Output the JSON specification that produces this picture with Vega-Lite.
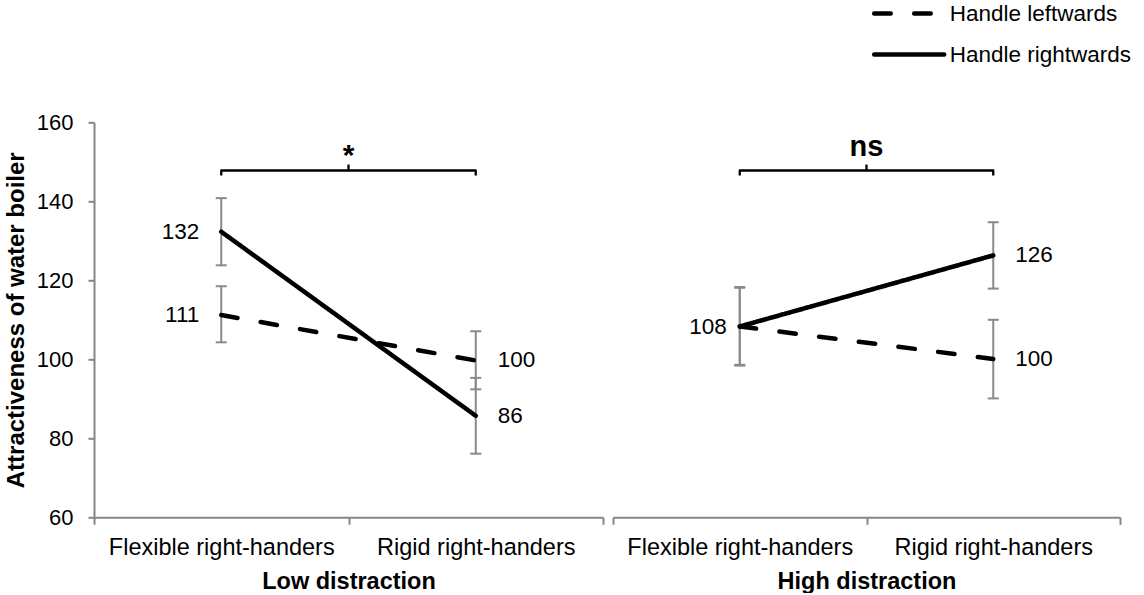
{
  "$schema": "https://vega.github.io/schema/vega-lite/v6.json",
  "background": "white",
  "padding": {"left": 4, "top": 2.3, "right": 0, "bottom": 0},
  "config": {
    "font": "Liberation Sans",
    "view": {"stroke": null},
    "axis": {"grid": false, "domainColor": "#868686", "tickColor": "#868686", "domainWidth": 2, "tickWidth": 2, "labelColor": "#000", "titleColor": "#000"},
    "axisX": {"tickSize": 7, "labelFontSize": 23.5, "labelPadding": 11, "titleFontSize": 23.5, "titleFontWeight": "bold", "titlePadding": 11, "labelAngle": 0, "tickBand": "extent", "labelLimit": 400},
    "axisY": {"tickSize": 6, "labelFontSize": 22, "labelPadding": 15, "titleFontSize": 24, "titleFontWeight": "bold", "titlePadding": 8}
  },
  "datasets": {
    "rows": [
      {"kind": "pt", "dist": "Low distraction", "cond": "Flexible right-handers", "handle": "Handle leftwards", "mean": 111.2, "lo": 104.3, "hi": 118.5, "label": "111"},
      {"kind": "pt", "dist": "Low distraction", "cond": "Flexible right-handers", "handle": "Handle rightwards", "mean": 132.3, "lo": 123.8, "hi": 140.8, "label": "132"},
      {"kind": "pt", "dist": "Low distraction", "cond": "Rigid right-handers", "handle": "Handle leftwards", "mean": 99.7, "lo": 92.4, "hi": 107.1, "label": "100"},
      {"kind": "pt", "dist": "Low distraction", "cond": "Rigid right-handers", "handle": "Handle rightwards", "mean": 85.7, "lo": 76.1, "hi": 95.3, "label": "86"},
      {"kind": "pt", "dist": "High distraction", "cond": "Flexible right-handers", "handle": "Handle leftwards", "mean": 108.3, "lo": 98.4, "hi": 118.1, "label": "108"},
      {"kind": "pt", "dist": "High distraction", "cond": "Flexible right-handers", "handle": "Handle rightwards", "mean": 108.3, "lo": 98.6, "hi": 118.3, "label": null},
      {"kind": "pt", "dist": "High distraction", "cond": "Rigid right-handers", "handle": "Handle leftwards", "mean": 100.1, "lo": 90.1, "hi": 110.0, "label": "100"},
      {"kind": "pt", "dist": "High distraction", "cond": "Rigid right-handers", "handle": "Handle rightwards", "mean": 126.3, "lo": 117.9, "hi": 134.7, "label": "126"},
      {"kind": "br", "dist": "Low distraction", "cond": "Flexible right-handers", "y": 146.5, "ord": 1},
      {"kind": "br", "dist": "Low distraction", "cond": "Flexible right-handers", "y": 147.8, "ord": 2},
      {"kind": "br", "dist": "Low distraction", "cond": "Rigid right-handers", "y": 147.8, "ord": 3},
      {"kind": "br", "dist": "Low distraction", "cond": "Rigid right-handers", "y": 146.5, "ord": 4},
      {"kind": "br", "dist": "High distraction", "cond": "Flexible right-handers", "y": 146.5, "ord": 1},
      {"kind": "br", "dist": "High distraction", "cond": "Flexible right-handers", "y": 147.8, "ord": 2},
      {"kind": "br", "dist": "High distraction", "cond": "Rigid right-handers", "y": 147.8, "ord": 3},
      {"kind": "br", "dist": "High distraction", "cond": "Rigid right-handers", "y": 146.5, "ord": 4},
      {"kind": "sig", "dist": "Low distraction", "cond": "Flexible right-handers", "y": 147.8, "ytop": 149.3, "sig": "*"},
      {"kind": "sig", "dist": "High distraction", "cond": "Flexible right-handers", "y": 147.8, "ytop": 149.3, "sig": "ns"}
    ]
  },
  "spacing": 8,
  "resolve": {"scale": {"y": "shared", "strokeDash": "shared"}, "legend": {"strokeDash": "shared"}},
  "hconcat": [
    {
      "width": 509,
      "height": 395,
      "data": {"name": "rows"},
      "transform": [{"filter": "datum.dist === 'Low distraction'"}],
      "encoding": {
        "x": {"field": "cond", "type": "nominal", "sort": ["Flexible right-handers", "Rigid right-handers"], "scale": {"type": "band", "paddingInner": 0, "paddingOuter": 0}, "title": "Low distraction"}
      },
      "layer": [
        {
          "transform": [{"filter": "datum.kind === 'pt'"}],
          "mark": {"type": "rule", "color": "#8a8a8a", "strokeWidth": 2},
          "encoding": {
            "y": {"field": "lo", "type": "quantitative", "scale": {"domain": [60, 160]}, "title": "Attractiveness of water boiler", "axis": {"values": [60, 80, 100, 120, 140, 160]}},
            "y2": {"field": "hi"}
          }
        },
        {
          "transform": [{"filter": "datum.kind === 'pt'"}],
          "mark": {"type": "tick", "color": "#8a8a8a", "size": 11, "thickness": 2, "opacity": 1},
          "encoding": {"y": {"field": "lo", "type": "quantitative"}}
        },
        {
          "transform": [{"filter": "datum.kind === 'pt'"}],
          "mark": {"type": "tick", "color": "#8a8a8a", "size": 11, "thickness": 2, "opacity": 1},
          "encoding": {"y": {"field": "hi", "type": "quantitative"}}
        },
        {
          "transform": [{"filter": "datum.kind === 'pt'"}],
          "mark": {"type": "line", "color": "black", "strokeWidth": 4.5, "strokeCap": "round"},
          "encoding": {
            "y": {"field": "mean", "type": "quantitative"},
            "strokeDash": {
              "field": "handle", "type": "nominal",
              "scale": {"domain": ["Handle leftwards", "Handle rightwards"], "range": [[16.5, 23.5], [1, 0]]},
              "legend": {"title": null, "orient": "none", "legendX": 777.7, "legendY": -119.7, "symbolType": "stroke", "symbolSize": 4900, "symbolStrokeWidth": 4.5, "symbolStrokeColor": "black", "clipHeight": 22, "labelFontSize": 22.5, "labelOffset": 3, "rowPadding": 18, "labelColor": "black", "labelLimit": 400, "encode": {"symbols": {"update": {"strokeCap": {"value": "round"}}}}}
            }
          }
        },
        {
          "transform": [{"filter": "datum.kind === 'pt' && datum.label != null && datum.cond === 'Flexible right-handers'"}],
          "mark": {"type": "text", "align": "right", "baseline": "middle", "dx": -22, "fontSize": 22.5, "color": "black"},
          "encoding": {"y": {"field": "mean", "type": "quantitative"}, "text": {"field": "label"}}
        },
        {
          "transform": [{"filter": "datum.kind === 'pt' && datum.label != null && datum.cond === 'Rigid right-handers'"}],
          "mark": {"type": "text", "align": "left", "baseline": "middle", "dx": 22, "fontSize": 22.5, "color": "black"},
          "encoding": {"y": {"field": "mean", "type": "quantitative"}, "text": {"field": "label"}}
        },
        {
          "transform": [{"filter": "datum.kind === 'br'"}],
          "mark": {"type": "line", "color": "black", "strokeWidth": 2.3, "strokeJoin": "round"},
          "encoding": {"y": {"field": "y", "type": "quantitative"}, "order": {"field": "ord"}}
        },
        {
          "transform": [{"filter": "datum.kind === 'sig'"}],
          "mark": {"type": "rule", "color": "black", "strokeWidth": 2.3},
          "encoding": {
            "x": {"field": "cond", "type": "nominal", "bandPosition": 1},
            "y": {"field": "y", "type": "quantitative"},
            "y2": {"field": "ytop"}
          }
        },
        {
          "transform": [{"filter": "datum.kind === 'sig'"}],
          "mark": {"type": "text", "align": "center", "baseline": "alphabetic", "dy": 0.7, "fontSize": 30, "fontWeight": "bold", "color": "black"},
          "encoding": {
            "x": {"field": "cond", "type": "nominal", "bandPosition": 1},
            "y": {"field": "ytop", "type": "quantitative"},
            "text": {"field": "sig"}
          }
        }
      ]
    },
    {
      "width": 507,
      "height": 395,
      "data": {"name": "rows"},
      "transform": [{"filter": "datum.dist === 'High distraction'"}],
      "encoding": {
        "x": {"field": "cond", "type": "nominal", "sort": ["Flexible right-handers", "Rigid right-handers"], "scale": {"type": "band", "paddingInner": 0, "paddingOuter": 0}, "title": "High distraction"}
      },
      "layer": [
        {
          "transform": [{"filter": "datum.kind === 'pt'"}],
          "mark": {"type": "rule", "color": "#8a8a8a", "strokeWidth": 2},
          "encoding": {
            "y": {"field": "lo", "type": "quantitative", "scale": {"domain": [60, 160]}, "axis": null},
            "y2": {"field": "hi"}
          }
        },
        {
          "transform": [{"filter": "datum.kind === 'pt'"}],
          "mark": {"type": "tick", "color": "#8a8a8a", "size": 11, "thickness": 2, "opacity": 1},
          "encoding": {"y": {"field": "lo", "type": "quantitative", "axis": null}}
        },
        {
          "transform": [{"filter": "datum.kind === 'pt'"}],
          "mark": {"type": "tick", "color": "#8a8a8a", "size": 11, "thickness": 2, "opacity": 1},
          "encoding": {"y": {"field": "hi", "type": "quantitative", "axis": null}}
        },
        {
          "transform": [{"filter": "datum.kind === 'pt'"}],
          "mark": {"type": "line", "color": "black", "strokeWidth": 4.5, "strokeCap": "round"},
          "encoding": {
            "y": {"field": "mean", "type": "quantitative", "axis": null},
            "strokeDash": {
              "field": "handle", "type": "nominal",
              "scale": {"domain": ["Handle leftwards", "Handle rightwards"], "range": [[16.5, 23.5], [1, 0]]},
              "legend": {"title": null, "orient": "none", "legendX": 777.7, "legendY": -119.7, "symbolType": "stroke", "symbolSize": 4900, "symbolStrokeWidth": 4.5, "symbolStrokeColor": "black", "clipHeight": 22, "labelFontSize": 22.5, "labelOffset": 3, "rowPadding": 18, "labelColor": "black", "labelLimit": 400, "encode": {"symbols": {"update": {"strokeCap": {"value": "round"}}}}}
            }
          }
        },
        {
          "transform": [{"filter": "datum.kind === 'pt' && datum.label != null && datum.cond === 'Flexible right-handers'"}],
          "mark": {"type": "text", "align": "right", "baseline": "middle", "dx": -13, "fontSize": 22.5, "color": "black"},
          "encoding": {"y": {"field": "mean", "type": "quantitative", "axis": null}, "text": {"field": "label"}}
        },
        {
          "transform": [{"filter": "datum.kind === 'pt' && datum.label != null && datum.cond === 'Rigid right-handers'"}],
          "mark": {"type": "text", "align": "left", "baseline": "middle", "dx": 22, "fontSize": 22.5, "color": "black"},
          "encoding": {"y": {"field": "mean", "type": "quantitative", "axis": null}, "text": {"field": "label"}}
        },
        {
          "transform": [{"filter": "datum.kind === 'br'"}],
          "mark": {"type": "line", "color": "black", "strokeWidth": 2.3, "strokeJoin": "round"},
          "encoding": {"y": {"field": "y", "type": "quantitative", "axis": null}, "order": {"field": "ord"}}
        },
        {
          "transform": [{"filter": "datum.kind === 'sig'"}],
          "mark": {"type": "rule", "color": "black", "strokeWidth": 2.3},
          "encoding": {
            "x": {"field": "cond", "type": "nominal", "bandPosition": 1},
            "y": {"field": "y", "type": "quantitative", "axis": null},
            "y2": {"field": "ytop"}
          }
        },
        {
          "transform": [{"filter": "datum.kind === 'sig'"}],
          "mark": {"type": "text", "align": "center", "baseline": "alphabetic", "dy": -8.3, "fontSize": 29, "fontWeight": "bold", "color": "black"},
          "encoding": {
            "x": {"field": "cond", "type": "nominal", "bandPosition": 1},
            "y": {"field": "ytop", "type": "quantitative", "axis": null},
            "text": {"field": "sig"}
          }
        }
      ]
    }
  ]
}
